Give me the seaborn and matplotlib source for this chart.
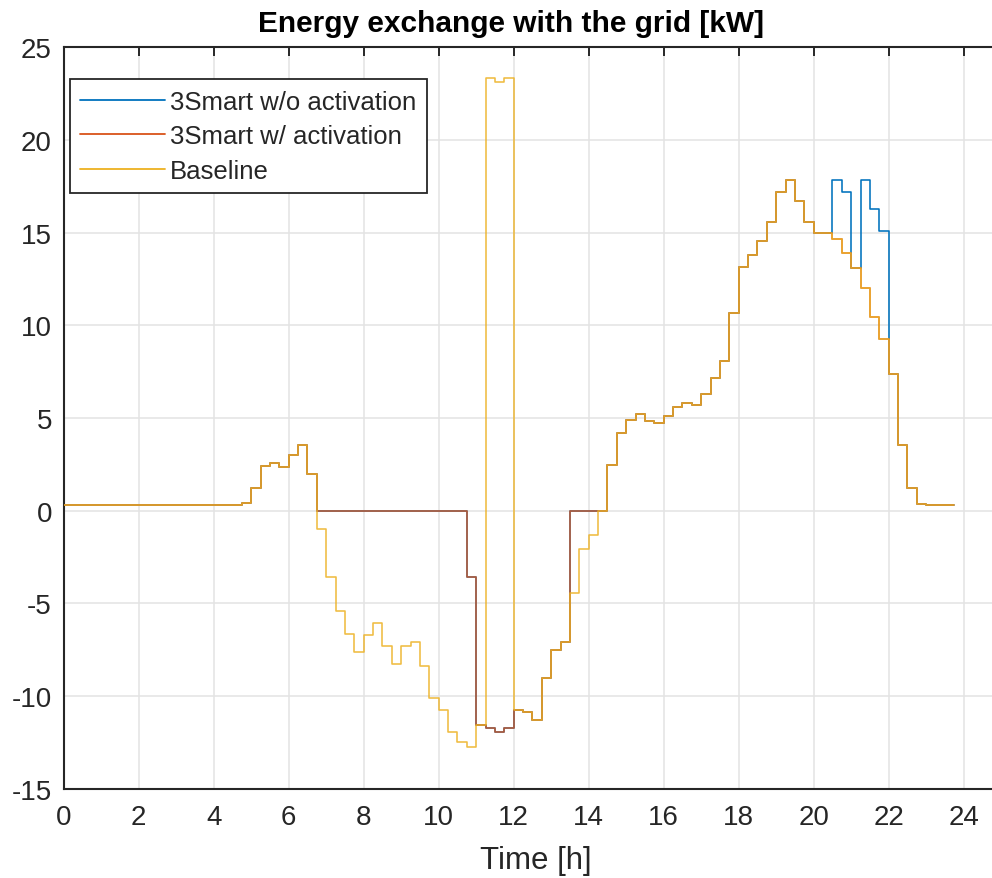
import numpy as np
import pandas as pd
import matplotlib
matplotlib.use("Agg")
import matplotlib.pyplot as plt
import seaborn as sns

# 15-minute time grid over one day [h]
hours = np.arange(96) * 0.25

# Grid exchange [kW], baseline case
baseline = [
    0.31, 0.30, 0.31, 0.31, 0.32, 0.31, 0.31, 0.30, 0.31, 0.31,
    0.31, 0.30, 0.31, 0.30, 0.31, 0.31, 0.31, 0.30, 0.31, 0.43,
    1.21, 2.39, 2.56, 2.38, 3.02, 3.56, 2.00, -0.97, -3.58, -5.40,
    -6.64, -7.65, -6.73, -6.05, -7.29, -8.26, -7.29, -7.09, -8.40, -10.13,
    -10.74, -11.96, -12.47, -12.77, -11.57, 23.37, 23.13, 23.37, -10.74, -10.88,
    -11.30, -9.03, -7.52, -7.10, -4.42, -2.07, -1.31, 0.00, 2.47, 4.17,
    4.88, 5.20, 4.86, 4.75, 5.13, 5.60, 5.83, 5.72, 6.27, 7.18,
    8.06, 10.69, 13.13, 13.82, 14.57, 15.56, 17.22, 17.86, 16.71, 15.56,
    15.00, 15.00, 14.65, 13.91, 13.08, 12.00, 10.44, 9.25, 7.38, 3.55,
    1.21, 0.38, 0.31, 0.31, 0.31, 0.31,
]

# 3Smart with activation
smart_act = [
    0.31, 0.30, 0.31, 0.31, 0.32, 0.31, 0.31, 0.30, 0.31, 0.31,
    0.31, 0.30, 0.31, 0.30, 0.31, 0.31, 0.31, 0.30, 0.31, 0.43,
    1.21, 2.39, 2.56, 2.38, 3.02, 3.56, 2.00, 0.00, 0.00, 0.00,
    0.00, 0.00, 0.00, 0.00, 0.00, 0.00, 0.00, 0.00, 0.00, 0.00,
    0.00, 0.00, 0.00, -3.58, -11.57, -11.71, -11.94, -11.71, -10.74, -10.88,
    -11.30, -9.03, -7.52, -7.10, 0.00, 0.00, 0.00, 0.00, 2.47, 4.17,
    4.88, 5.20, 4.86, 4.75, 5.13, 5.60, 5.83, 5.72, 6.27, 7.18,
    8.06, 10.69, 13.13, 13.82, 14.57, 15.56, 17.22, 17.86, 16.71, 15.56,
    15.00, 15.00, 14.65, 13.91, 13.08, 12.00, 10.44, 9.25, 7.38, 3.55,
    1.21, 0.38, 0.31, 0.31, 0.31, 0.31,
]

# 3Smart without activation
smart_noact = [
    0.31, 0.30, 0.31, 0.31, 0.32, 0.31, 0.31, 0.30, 0.31, 0.31,
    0.31, 0.30, 0.31, 0.30, 0.31, 0.31, 0.31, 0.30, 0.31, 0.43,
    1.21, 2.39, 2.56, 2.38, 3.02, 3.56, 2.00, 0.00, 0.00, 0.00,
    0.00, 0.00, 0.00, 0.00, 0.00, 0.00, 0.00, 0.00, 0.00, 0.00,
    0.00, 0.00, 0.00, -3.58, -11.57, -11.71, -11.94, -11.71, -10.74, -10.88,
    -11.30, -9.03, -7.52, -7.10, 0.00, 0.00, 0.00, 0.00, 2.47, 4.17,
    4.88, 5.20, 4.86, 4.75, 5.13, 5.60, 5.83, 5.72, 6.27, 7.18,
    8.06, 10.69, 13.13, 13.82, 14.57, 15.56, 17.22, 17.86, 16.71, 15.56,
    15.00, 15.00, 17.86, 17.18, 13.08, 17.86, 16.28, 15.09, 7.38, 3.55,
    1.21, 0.38, 0.31, 0.31, 0.31, 0.31,
]

series_names = ["3Smart w/o activation", "3Smart w/ activation", "Baseline"]
series_colors = ["#0072BD", "#D95319", "#EDB120"]
x_ticks = list(range(0, 25, 2))
y_ticks = list(range(-15, 26, 5))

df = pd.concat([
    pd.DataFrame({"Time [h]": hours, "Power [kW]": vals, "Case": name})
    for name, vals in zip(series_names, [smart_noact, smart_act, baseline])
], ignore_index=True)

sns.set_style("white")
plt.rcParams["font.family"] = ["Liberation Sans", "DejaVu Sans"]
plt.rcParams["axes.unicode_minus"] = False

fig = plt.figure(figsize=(9.92, 8.79), dpi=100)
ax = fig.add_axes([0.0642, 0.1016, 0.9451, 0.8434])

sns.lineplot(
    data=df, x="Time [h]", y="Power [kW]", hue="Case",
    hue_order=series_names, palette=series_colors,
    drawstyle="steps-post", linewidth=1.15, legend=False, ax=ax,
    estimator=None, sort=False,
)
for line, a in zip(ax.lines, [1.0, 0.85, 0.85]):
    line.set_alpha(a)
    line.set_zorder(3)

ax.set_xlim(0, 25)
ax.set_ylim(-15, 25)
ax.set_xticks(x_ticks)
ax.set_yticks(y_ticks)
ax.set_xlabel("")
ax.set_ylabel("")

ax.grid(True, color="#E3E3E3", linewidth=1.1, zorder=0)
ax.set_axisbelow(True)
for s in ax.spines.values():
    s.set_color("#262626")
    s.set_linewidth(1.5)
    s.set_visible(True)
ax.tick_params(axis="both", direction="in", length=6.5, width=1.4,
               color="#262626", labelcolor="#262626", labelsize=20,
               top=True, right=True)
ax.tick_params(axis="y", pad=8.5)
ax.tick_params(axis="x", pad=11)

leg = ax.legend(
    handles=ax.lines, labels=series_names, loc="upper left",
    bbox_to_anchor=(0.0067, 0.957), borderaxespad=0, fontsize=18.5,
    frameon=True, fancybox=False, framealpha=1, edgecolor="#262626",
    handlelength=3.3, handletextpad=0.2, labelspacing=0.42,
    borderpad=0.4,
)
leg.get_frame().set_linewidth(1.3)
for h in leg.legend_handles:
    h.set_alpha(1.0)
    h.set_linewidth(1.3)

fig.text(511.5 / 992, 1 - 32 / 879, "Energy exchange with the grid [kW]",
         ha="center", va="baseline", fontsize=21.5, fontweight="bold",
         color="black")
fig.text(536 / 992, 1 - 869 / 879, "Time [h]", ha="center",
         va="baseline", fontsize=22.5, color="#262626")

fig.savefig("out.png", dpi=100)
